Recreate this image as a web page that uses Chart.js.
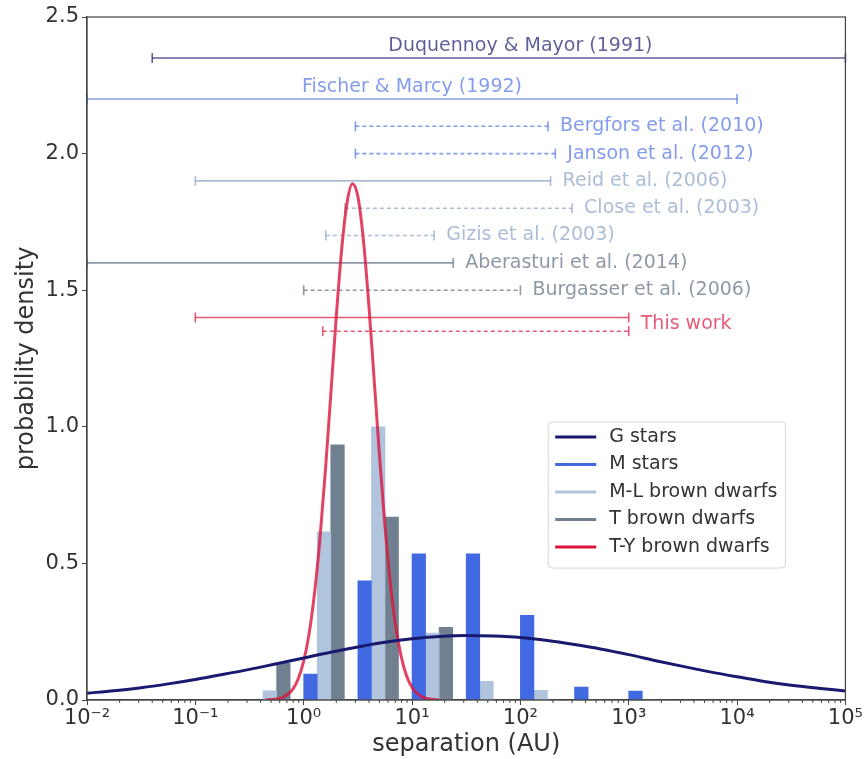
<!DOCTYPE html>
<html>
<head>
<meta charset="utf-8">
<script src="https://cdn.jsdelivr.net/npm/chart.js@4.4.1/dist/chart.umd.min.js"></script>
<style>
  html, body { margin: 0; padding: 0; background: #fff; }
  #wrap { width: 864px; height: 759px; }
</style>
</head>
<body>
<div id="wrap"><canvas id="myChart" width="864" height="759"></canvas></div>
<script>
// histograms: left edge of each half-decade bin, in log10(AU)
var binStart = [-0.5, 0, 0.5, 1, 1.5, 2, 2.5, 3];
var mStars   = [0, 0.095, 0.436, 0.535, 0.535, 0.31, 0.047, 0.033];
var mlDwarfs = [0.034, 0.616, 1.0, 0.245, 0.068, 0.035, 0, 0];
var tDwarfs  = [0.135, 0.934, 0.67, 0.266, 0, 0, 0, 0];

// G stars curve, read every quarter decade
var gLogSep = [-2, -1.75, -1.5, -1.25, -1, -0.75, -0.5, -0.25, 0, 0.25, 0.5, 0.75, 1, 1.25, 1.5,
               1.75, 2, 2.25, 2.5, 2.75, 3, 3.25, 3.5, 3.75, 4, 4.25, 4.5, 4.75, 5];
var gStars = [0.025, 0.034, 0.045, 0.059, 0.075, 0.093, 0.112, 0.133, 0.154, 0.175, 0.194, 0.211, 0.224, 0.232, 0.236,
              0.234, 0.229, 0.218, 0.203, 0.186, 0.166, 0.144, 0.123, 0.103, 0.085, 0.068, 0.054, 0.043, 0.033];

// T-Y brown dwarfs curve
var tyLogSep = [-0.35, -0.3, -0.25, -0.2, -0.15, -0.1, -0.05, 0, 0.05, 0.1, 0.15, 0.2, 0.25, 0.3, 0.35, 0.4, 0.45,
                0.5, 0.55, 0.6, 0.65, 0.7, 0.75, 0.8, 0.85, 0.9, 0.95, 1, 1.05, 1.1, 1.15, 1.2, 1.25];
var tyDwarfs = [0.001, 0.002, 0.004, 0.009, 0.02, 0.04, 0.078, 0.142, 0.243, 0.391, 0.591, 0.838, 1.118, 1.40, 1.647, 1.82, 1.89,
                1.843, 1.688, 1.453, 1.175, 0.893, 0.637, 0.427, 0.269, 0.159, 0.088, 0.046, 0.023, 0.01, 0.005, 0.002, 0.001];

// separation ranges from the literature (AU)
var refNames  = ['Duquennoy & Mayor (1991)', 'Fischer & Marcy (1992)', 'Bergfors et al. (2010)', 'Janson et al. (2012)',
                 'Reid et al. (2006)', 'Close et al. (2003)', 'Gizis et al. (2003)', 'Aberasturi et al. (2014)',
                 'Burgasser et al. (2006)', 'This work', 'This work'];
var refKind   = ['G', 'M', 'M', 'M', 'ML', 'ML', 'ML', 'T', 'T', 'TY', 'TY'];
var refY      = [2.35, 2.2, 2.1, 2.0, 1.9, 1.8, 1.7, 1.6, 1.5, 1.4, 1.35];
var refLo     = [0.04, 0.01, 3, 3, 0.1, 2.4, 1.6, 0.01, 1, 0.1, 1.5];
var refHi     = [1e5, 1e4, 180, 210, 190, 300, 16, 24, 100, 1000, 1000];
var refDashed = [false, false, true, true, false, true, true, false, true, false, true];
var refLabelAt = [100, 10, null, null, null, null, null, null, null, null, null];

var xTicks = [-2, -1, 0, 1, 2, 3, 4, 5];
var yTicks = [0, 0.5, 1.0, 1.5, 2.0, 2.5];

var legendNames = ['G stars', 'M stars', 'M-L brown dwarfs', 'T brown dwarfs', 'T-Y brown dwarfs'];

var kindColor = { G: '#191970', M: '#4169e1', ML: '#b0c4de', T: '#708090', TY: '#dc143c' };
var kindRange = { G: 'rgba(25,25,112,0.7)', M: 'rgba(65,105,225,0.65)', ML: 'rgba(150,172,205,0.8)',
                  T: 'rgba(112,128,144,0.8)', TY: 'rgba(220,20,60,0.7)' };
var legendColor = ['#191970', '#4169e1', '#b0c4de', '#708090', '#dc143c'];

Chart.defaults.font.family = '"DejaVu Sans", sans-serif';
Chart.defaults.color = '#333';

var sup = { '-': '\u207B', '0': '\u2070', '1': '\u00B9', '2': '\u00B2', '3': '\u00B3', '4': '\u2074', '5': '\u2075' };

function barData(values, slot) {
  return binStart.map(function (b, i) {
    return { x: b + 0.125 * slot + 0.0625, y: values[i] };
  });
}

var datasets = [];

datasets.push({
  type: 'line', label: 'G stars', order: 0,
  data: gLogSep.map(function (x, i) { return { x: x, y: gStars[i] }; }),
  borderColor: kindColor.G, borderWidth: 3, pointRadius: 0, cubicInterpolationMode: 'monotone'
});
datasets.push({
  type: 'line', label: 'T-Y brown dwarfs', order: 0,
  data: tyLogSep.map(function (x, i) { return { x: x, y: tyDwarfs[i] }; }),
  borderColor: 'rgba(220,20,60,0.8)', borderWidth: 3, pointRadius: 0, cubicInterpolationMode: 'monotone'
});

refNames.forEach(function (name, i) {
  var c = kindRange[refKind[i]];
  datasets.push({
    type: 'line', label: name, order: 1, clip: false,
    data: [{ x: Math.log10(refLo[i]), y: refY[i] }, { x: Math.log10(refHi[i]), y: refY[i] }],
    borderColor: c, borderWidth: 1.6, borderDash: refDashed[i] ? [4, 3] : [],
    pointStyle: 'line', pointRotation: 90, pointRadius: 5,
    pointBorderColor: c, pointBorderWidth: 1.6
  });
});

datasets.push({ type: 'bar', label: 'M stars', order: 2, data: barData(mStars, 0),
  backgroundColor: kindColor.M, grouped: false, barPercentage: 1, categoryPercentage: 1 });
datasets.push({ type: 'bar', label: 'M-L brown dwarfs', order: 2, data: barData(mlDwarfs, 1),
  backgroundColor: kindColor.ML, grouped: false, barPercentage: 1, categoryPercentage: 1 });
datasets.push({ type: 'bar', label: 'T brown dwarfs', order: 2, data: barData(tDwarfs, 2),
  backgroundColor: kindColor.T, grouped: false, barPercentage: 1, categoryPercentage: 1 });

// labels for the literature ranges
var rangeLabels = {
  id: 'rangeLabels',
  afterDatasetsDraw: function (chart) {
    var ctx = chart.ctx, xs = chart.scales.x, ys = chart.scales.y;
    var done = {};
    ctx.save();
    ctx.font = '19px "DejaVu Sans"';
    ctx.textBaseline = 'middle';
    refNames.forEach(function (name, i) {
      if (done[name]) return;
      done[name] = true;
      var same = refY.filter(function (v, j) { return refNames[j] === name; });
      var yv = same.reduce(function (a, b) { return a + b; }, 0) / same.length;
      ctx.fillStyle = kindRange[refKind[i]];
      if (refLabelAt[i]) {
        ctx.textAlign = 'center';
        ctx.fillText(name, xs.getPixelForValue(Math.log10(refLabelAt[i])), ys.getPixelForValue(yv) - 12);
      } else {
        ctx.textAlign = 'left';
        ctx.fillText(name, xs.getPixelForValue(Math.log10(refHi[i])) + 12, ys.getPixelForValue(yv));
      }
    });
    ctx.restore();
  }
};

// box around the axes, minor ticks and the legend
var frameAndLegend = {
  id: 'frameAndLegend',
  afterDraw: function (chart) {
    var ctx = chart.ctx, a = chart.chartArea, xs = chart.scales.x;
    ctx.save();
    ctx.strokeStyle = '#444';
    ctx.lineWidth = 1.2;
    ctx.strokeRect(a.left, a.top, a.right - a.left, a.bottom - a.top);
    ctx.lineWidth = 1;
    for (var n = -2; n < 5; n++) {
      for (var k = 2; k < 10; k++) {
        var px = xs.getPixelForValue(Math.log10(k * Math.pow(10, n)));
        ctx.beginPath();
        ctx.moveTo(px, a.bottom);
        ctx.lineTo(px, a.bottom + 3);
        ctx.stroke();
      }
    }

    ctx.font = '19px "DejaVu Sans"';
    var maxW = 0;
    legendNames.forEach(function (t) { maxW = Math.max(maxW, ctx.measureText(t).width); });
    var bw = 61 + maxW + 8, bh = 146, rowH = 27.5;
    var bx = a.right - 60 - bw, by = a.bottom - 132 - bh;
    ctx.fillStyle = 'rgba(255,255,255,0.8)';
    ctx.strokeStyle = '#d6d6d6';
    ctx.lineWidth = 1;
    ctx.beginPath();
    ctx.roundRect(bx, by, bw, bh, 4);
    ctx.fill();
    ctx.stroke();
    ctx.textBaseline = 'middle';
    ctx.textAlign = 'left';
    legendNames.forEach(function (t, i) {
      var ly = by + 15 + i * rowH;
      ctx.strokeStyle = legendColor[i];
      ctx.lineWidth = 3;
      ctx.beginPath();
      ctx.moveTo(bx + 7, ly);
      ctx.lineTo(bx + 48, ly);
      ctx.stroke();
      ctx.fillStyle = '#333';
      ctx.fillText(t, bx + 61, ly);
    });
    ctx.restore();
  }
};

var ctx = document.getElementById('myChart').getContext('2d');
var myChart = new Chart(ctx, {
  type: 'bar',
  data: { datasets: datasets },
  options: {
    responsive: false,
    animation: false,
    layout: { padding: { top: 17, right: 16, bottom: 0, left: 0 } },
    plugins: { legend: { display: false }, tooltip: { enabled: false } },
    scales: {
      x: {
        type: 'linear', min: -2, max: 5, offset: false,
        afterBuildTicks: function (s) { s.ticks = xTicks.map(function (v) { return { value: v }; }); },
        afterFit: function (s) { s.height = 59; },
        ticks: {
          font: { size: 21 }, color: '#333', padding: 1, maxRotation: 0, autoSkip: false,
          callback: function (v) { return '10' + String(v).split('').map(function (c) { return sup[c]; }).join(''); }
        },
        grid: { drawOnChartArea: false, offset: false, tickLength: 5, color: '#444' },
        border: { color: '#444', width: 1.2 },
        title: { display: true, text: 'separation (AU)', font: { size: 24 }, color: '#333', padding: { top: 0, bottom: 0 } }
      },
      y: {
        type: 'linear', min: 0, max: 2.5,
        afterBuildTicks: function (s) { s.ticks = yTicks.map(function (v) { return { value: v }; }); },
        afterFit: function (s) { s.width = 87; },
        ticks: { font: { size: 21 }, color: '#333', padding: 3, callback: function (v) { return v.toFixed(1); } },
        grid: { drawOnChartArea: false, tickLength: 5, color: '#444' },
        border: { color: '#444', width: 1.2 },
        title: { display: true, text: 'probability density', font: { size: 24 }, color: '#333', padding: { top: 12, bottom: 0 } }
      }
    }
  },
  plugins: [rangeLabels, frameAndLegend]
});
</script>
</body>
</html>
